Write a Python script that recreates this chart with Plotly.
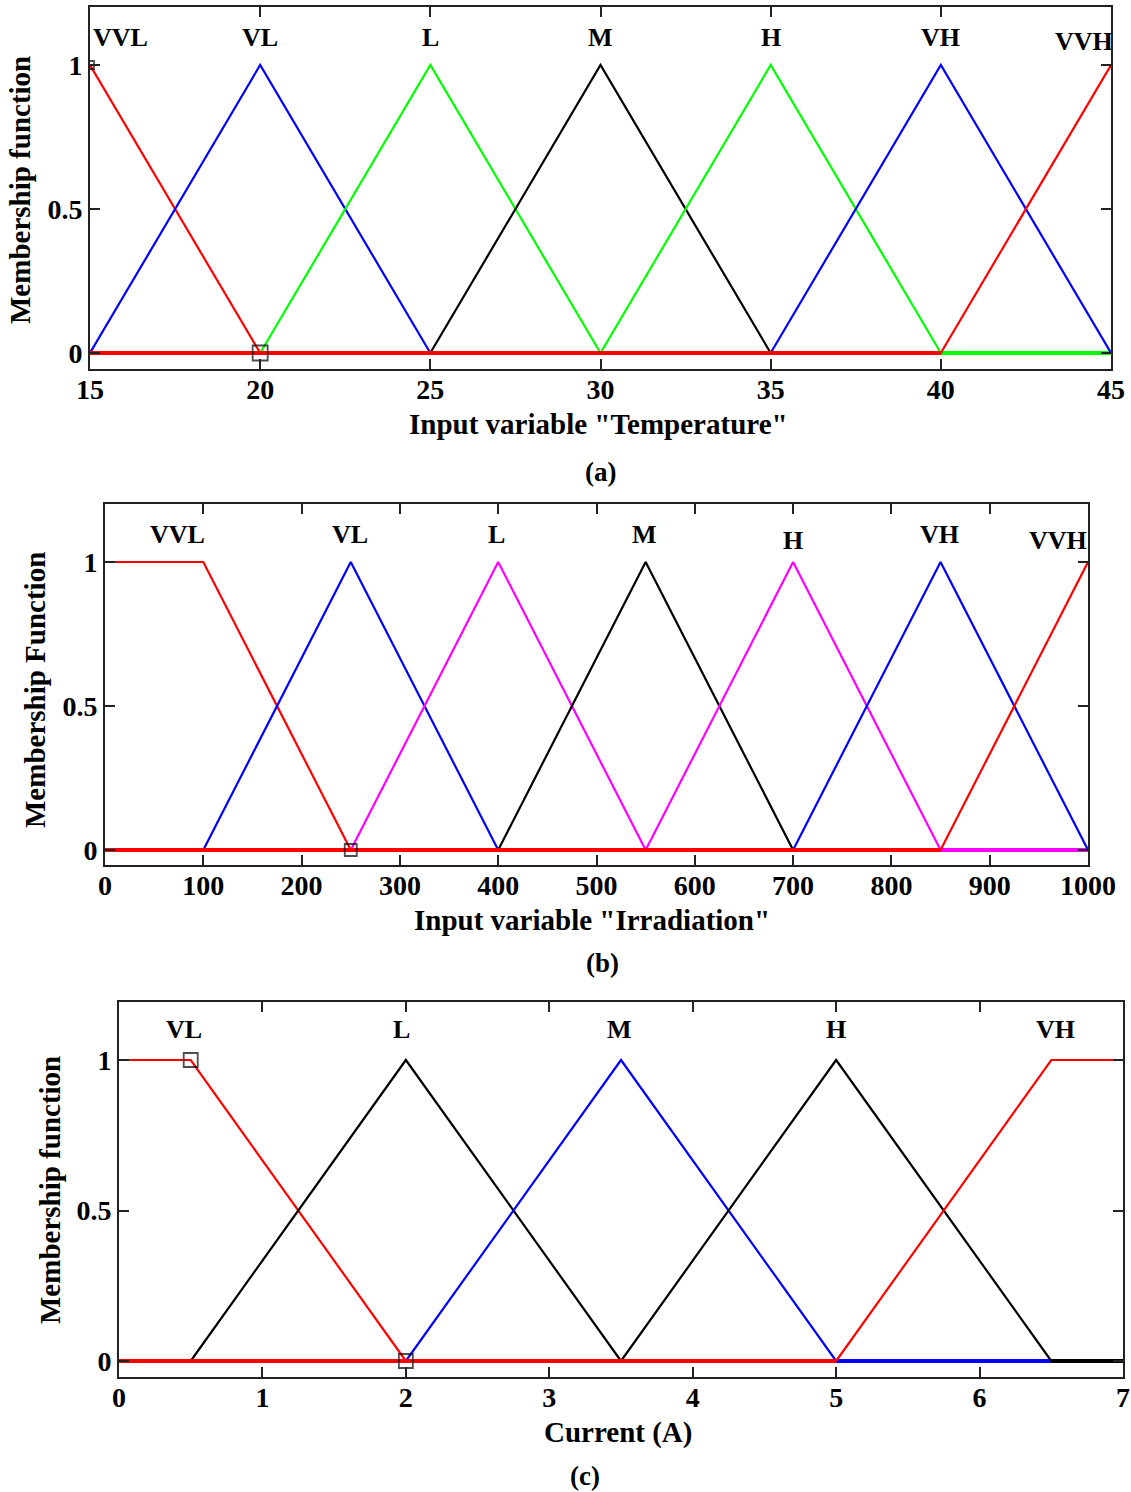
import plotly.graph_objects as go

W, H = 1131, 1492
FONT = "Liberation Serif"

# ---------------- data ----------------
temp_names = ["VVL", "VL", "L", "M", "H", "VH", "VVH"]
temp_params = [[15, 15, 15, 20], [15, 20, 20, 25], [20, 25, 25, 30], [25, 30, 30, 35],
               [30, 35, 35, 40], [35, 40, 40, 45], [40, 45, 45, 45]]
temp_colors = ["#ff0000", "#0000ff", "#00ff00", "#000000", "#00ff00", "#0000ff", "#ff0000"]
temp_label_x = [15.9, 20, 25, 30, 35, 40, 44.2]
temp_label_y = [1.097, 1.097, 1.097, 1.097, 1.097, 1.097, 1.08]
temp_ticks = [15, 20, 25, 30, 35, 40, 45]
temp_markers_x = [15, 20]
temp_markers_y = [1, 0]

irr_names = ["VVL", "VL", "L", "M", "H", "VH", "VVH"]
irr_params = [[0, 0, 100, 250], [100, 250, 250, 400], [250, 400, 400, 550], [400, 550, 550, 700],
              [550, 700, 700, 850], [700, 850, 850, 1000], [850, 1000, 1000, 1000]]
irr_colors = ["#ff0000", "#0000ff", "#ff00ff", "#000000", "#ff00ff", "#0000ff", "#ff0000"]
irr_label_x = [74, 249, 398, 549, 700, 849, 969]
irr_label_y = [1.094, 1.094, 1.094, 1.094, 1.073, 1.094, 1.076]
irr_ticks = [0, 100, 200, 300, 400, 500, 600, 700, 800, 900, 1000]
irr_markers_x = [250]
irr_markers_y = [0]

cur_names = ["VL", "L", "M", "H", "VH"]
cur_params = [[0, 0, 0.5, 2], [0.5, 2, 2, 3.5], [2, 3.5, 3.5, 5], [3.5, 5, 5, 6.5], [5, 6.5, 7, 7]]
cur_colors = ["#ff0000", "#000000", "#0000ff", "#000000", "#ff0000"]
cur_label_x = [0.45, 1.97, 3.49, 5.0, 6.53]
cur_label_y = [1.10, 1.10, 1.10, 1.10, 1.10]
cur_ticks = [0, 1, 2, 3, 4, 5, 6, 7]
cur_markers_x = [0.5, 2]
cur_markers_y = [1, 0]

panels = [
    dict(names=temp_names, params=temp_params, colors=temp_colors, lx=temp_label_x, ly=temp_label_y,
         ticks=temp_ticks, mx=temp_markers_x, my=temp_markers_y, msize=[8, 15],
         xr=[15, 45], px=[90, 1111], py=[7, 369], y0=353, y1=65,
         xtitle='Input variable "Temperature"', ytitle="Membership function", caption="(a)",
         xt=(598, 424), yt=(20, 190), cap=(600, 472)),
    dict(names=irr_names, params=irr_params, colors=irr_colors, lx=irr_label_x, ly=irr_label_y,
         ticks=irr_ticks, mx=irr_markers_x, my=irr_markers_y, msize=[12],
         xr=[0, 1000], px=[105, 1088], py=[504, 865], y0=850, y1=562,
         xtitle='Input variable "Irradiation"', ytitle="Membership Function", caption="(b)",
         xt=(592, 920), yt=(35, 690), cap=(602, 963)),
    dict(names=cur_names, params=cur_params, colors=cur_colors, lx=cur_label_x, ly=cur_label_y,
         ticks=cur_ticks, mx=cur_markers_x, my=cur_markers_y, msize=[14, 14],
         xr=[0, 7], px=[119, 1123], py=[1002, 1377], y0=1361, y1=1060,
         xtitle="Current (A)", ytitle="Membership function", caption="(c)",
         xt=(618, 1432), yt=(50, 1190), cap=(585, 1476)),
]


def mf(x, p):
    a, b, c, d = p
    if x < a or x > d:
        return 0.0
    if b <= x <= c:
        return 1.0
    if x < b:
        return (x - a) / (b - a)
    return (d - x) / (d - c)


fig = go.Figure()
annotations = []
layout = {}

for i, P in enumerate(panels):
    k = "" if i == 0 else str(i + 1)
    xa, ya = "x" + k, "y" + k
    xmin, xmax = P["xr"]
    for name, p, col in zip(P["names"], P["params"], P["colors"]):
        a, b, c, d = p
        # zero (baseline) portions
        zx, zy = [], []
        if a > xmin:
            zx += [xmin, a, None]
            zy += [0, 0, None]
        if d < xmax:
            zx += [d, xmax]
            zy += [0, 0]
        if zx:
            fig.add_trace(go.Scatter(x=zx, y=zy, mode="lines", line=dict(color=col, width=4),
                                     xaxis=xa, yaxis=ya, showlegend=False, hoverinfo="skip"))
        # shape portion
        pts = sorted(set([max(xmin, a), b, c, min(xmax, d)]))
        pts = [q for q in pts if xmin <= q <= xmax]
        sy = []
        sx = []
        for q in pts:
            sx.append(q)
            if q == a and a == b:
                sy.append(1.0)
            elif q == d and d == c:
                sy.append(1.0)
            else:
                sy.append(mf(q, p))
        fig.add_trace(go.Scatter(x=sx, y=sy, mode="lines", line=dict(color=col, width=2.2),
                                 xaxis=xa, yaxis=ya, showlegend=False, hoverinfo="skip", name=name))
    fig.add_trace(go.Scatter(x=P["mx"], y=P["my"], mode="markers",
                             marker=dict(symbol="square-open", size=P["msize"], color="black",
                                         line=dict(width=1.8, color="black")),
                             xaxis=xa, yaxis=ya, showlegend=False, hoverinfo="skip"))

    # y range from pixel geometry
    per = (P["y0"] - P["y1"])
    ytop = 1 + (P["y1"] - P["py"][0]) / per
    ybot = -(P["py"][1] - P["y0"]) / per
    common = dict(showgrid=False, zeroline=False, showline=True, linecolor="#222222", linewidth=2,
                  mirror="ticks", ticks="inside", ticklen=10, tickwidth=1.5, tickcolor="#222222",
                  automargin=False,
                  tickfont=dict(family=FONT, size=28, color="black", weight="bold"))
    layout["xaxis" + k] = dict(common, domain=[P["px"][0] / W, P["px"][1] / W], range=P["xr"],
                               tickvals=P["ticks"], ticktext=[str(t) for t in P["ticks"]],
                               ticklabelstandoff=-6, anchor=ya)
    layout["yaxis" + k] = dict(common, domain=[1 - P["py"][1] / H, 1 - P["py"][0] / H],
                               range=[ybot, ytop], tickvals=[0, 0.5, 1], ticktext=["0", "0.5", "1"],
                               anchor=xa)
    for name, x, y in zip(P["names"], P["lx"], P["ly"]):
        annotations.append(dict(x=x, y=y, xref=xa, yref=ya, text=name, showarrow=False,
                                xanchor="center", yanchor="middle",
                                font=dict(family=FONT, size=26, color="black", weight="bold")))
    annotations.append(dict(x=P["xt"][0] / W, y=1 - P["xt"][1] / H, xref="paper", yref="paper",
                            text=P["xtitle"], showarrow=False, xanchor="center", yanchor="middle",
                            font=dict(family=FONT, size=29, color="black", weight="bold")))
    annotations.append(dict(x=P["yt"][0] / W, y=1 - P["yt"][1] / H, xref="paper", yref="paper",
                            text=P["ytitle"], showarrow=False, textangle=-90,
                            xanchor="center", yanchor="middle",
                            font=dict(family=FONT, size=29, color="black", weight="bold")))
    annotations.append(dict(x=P["cap"][0] / W, y=1 - P["cap"][1] / H, xref="paper", yref="paper",
                            text=P["caption"], showarrow=False, xanchor="center", yanchor="middle",
                            font=dict(family=FONT, size=27, color="black", weight="bold")))

fig.update_layout(width=W, height=H, margin=dict(l=0, r=0, t=0, b=0),
                  paper_bgcolor="white", plot_bgcolor="white", annotations=annotations, **layout)
fig.write_html("out.html")
